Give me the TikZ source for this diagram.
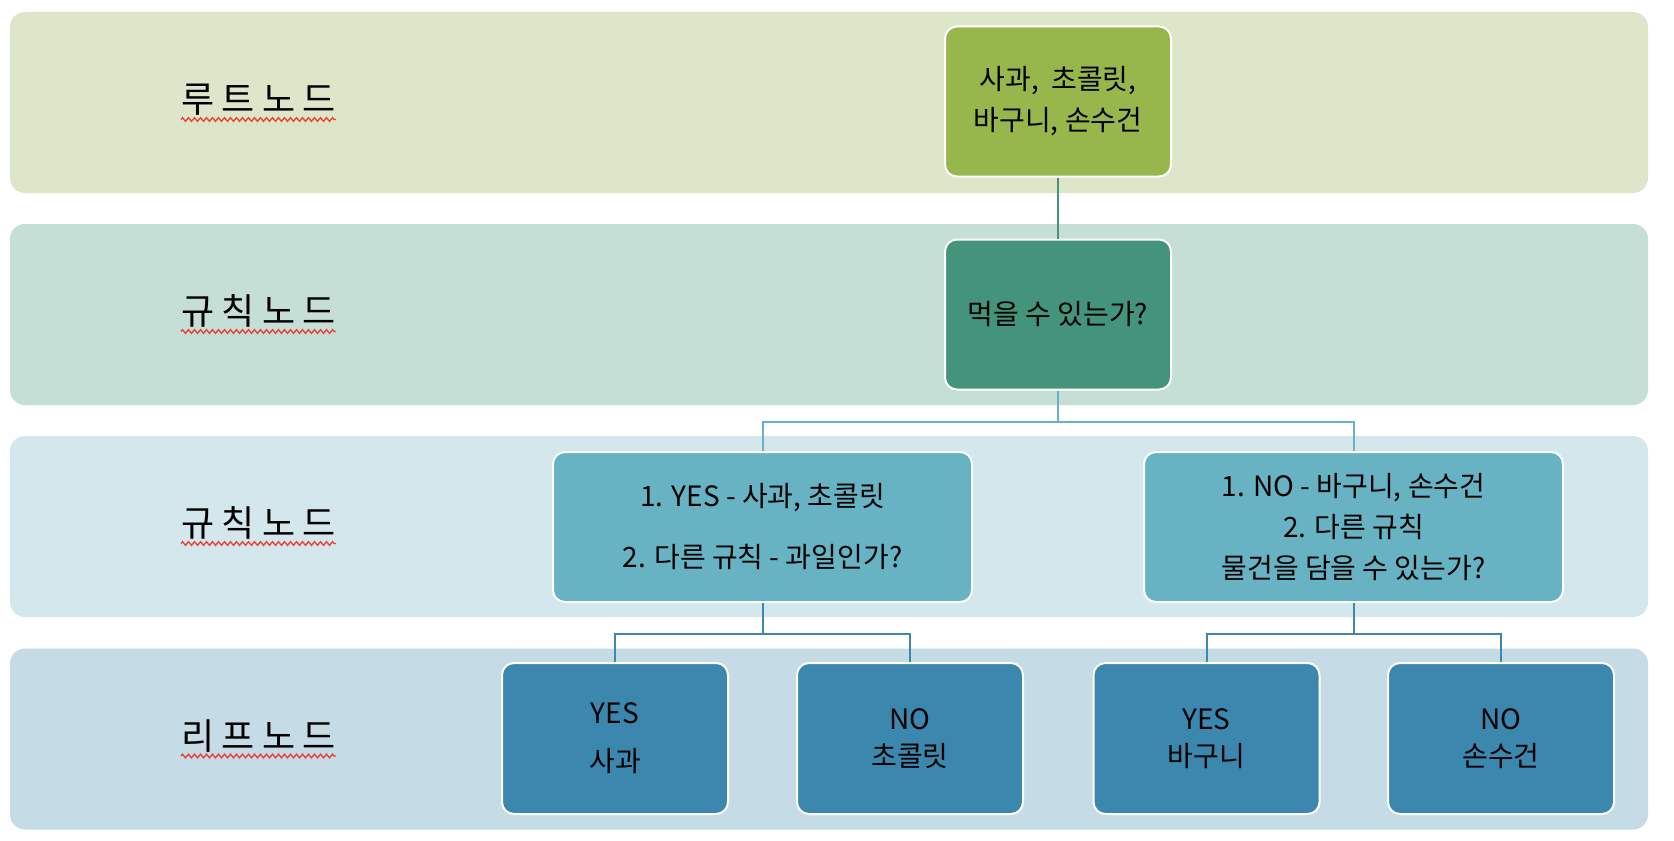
\documentclass[tikz,border=0pt]{standalone}
\usepackage{fontspec}
\setmainfont{Noto Sans CJK KR}
\newfontfamily\levelfont[LetterSpace=20]{Noto Sans CJK KR}
\usetikzlibrary{decorations.pathmorphing}

\definecolor{rootband}{HTML}{DEE6C9}
\definecolor{ruleband}{HTML}{C6DFD6}
\definecolor{subband}{HTML}{D3E7EC}
\definecolor{leafband}{HTML}{C5DBE6}
\definecolor{rootfill}{HTML}{97B64C}
\definecolor{rulefill}{HTML}{43947A}
\definecolor{subfill}{HTML}{67B3C3}
\definecolor{leaffill}{HTML}{3B87AD}
\definecolor{squig}{HTML}{E5453A}

\def\px{.5pt}

\begin{document}
\begin{tikzpicture}[x=\px,y=-\px]
  \tikzset{band/.style={minimum width=1638*\px,minimum height=181*\px,rounded corners=7.5pt,inner sep=0},
    level/.style={anchor=base west,inner sep=0,font=\levelfont\fontsize{18}{20}\selectfont},
    squiggle/.style={draw=squig,line width=.7pt,decorate,decoration={zigzag,segment length=3pt,amplitude=.9pt}},
    box/.style={draw=white,line width=1pt,rounded corners=6pt,minimum height=150*\px,align=center,font=\fontsize{14}{20.5}\selectfont},
    small/.style={box,minimum width=226*\px},
    wide/.style={box,minimum width=419*\px},
    link/.style={line width=1pt}}
  \useasboundingbox (0,0) rectangle (1674,840);

  % bands with their level names
  \foreach \i/\y/\col/\lab in {1/102.5/rootband/루트노드,2/314.5/ruleband/규칙노드,3/526.5/subband/규칙노드,4/739/leafband/리프노드} {
    \node[band,fill=\col] (band\i) at (829,\y) {};
    \node[level] (level\i) at (181,\y+10) {\lab};
    \draw[squiggle] ([yshift=-3.5pt]level\i.base west) -- ([yshift=-3.5pt]level\i.base east);
  }

  \node[small,fill=rootfill] (root) at (1058,101.5) {사과,~ 초콜릿,\\바구니, 손수건};
  \node[small,fill=rulefill] (rule) at (1058,314.5) {먹을 수 있는가?};
  \node[wide,fill=subfill] (yes) at (762.5,527) {1. YES - 사과, 초콜릿\\[10pt]2. 다른 규칙 - 과일인가?};
  \node[wide,fill=subfill] (no) at (1353.5,527) {1. NO - 바구니, 손수건\\2. 다른 규칙\\물건을 담을 수 있는가?};
  \node[small,fill=leaffill,minimum height=151*\px] (apple) at (615,738.5) {YES\\[3.5pt]사과};
  \node[small,fill=leaffill,minimum height=151*\px] (choco) at (910,738.5) {NO\\[-2pt]초콜릿};
  \node[small,fill=leaffill,minimum height=151*\px] (basket) at (1206.5,738.5) {YES\\[-2pt]바구니};
  \node[small,fill=leaffill,minimum height=151*\px] (towel) at (1501,738.5) {NO\\[-2pt]손수건};

  \draw[link,rulefill] (root) -- (rule);
  \draw[link,subfill] (rule.south) -- ++(0,31) -| (yes.north);
  \draw[link,subfill] (rule.south) -- ++(0,31) -| (no.north);
  \draw[link,leaffill] (yes.south) -- ++(0,31) -| (apple.north);
  \draw[link,leaffill] (yes.south) -- ++(0,31) -| (choco.north);
  \draw[link,leaffill] (no.south) -- ++(0,31) -| (basket.north);
  \draw[link,leaffill] (no.south) -- ++(0,31) -| (towel.north);
\end{tikzpicture}
\end{document}
